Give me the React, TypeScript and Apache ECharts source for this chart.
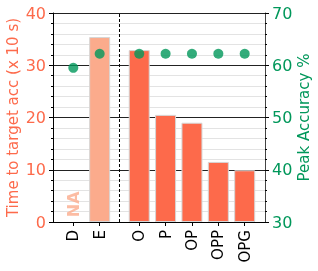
import React, { useEffect, useRef } from "react";
import * as echarts from "echarts";

const categories = ["D", "E", "O", "P", "OP", "OPP", "OPG"];
const positions = [0, 1, 2.5, 3.5, 4.5, 5.5, 6.5];
const timeValues: (number | null)[] = [null, 35.4, 32.9, 20.5, 19.0, 11.5, 9.9];
const accValues = [59.5, 62.2, 62.2, 62.2, 62.2, 62.2, 62.2];
const dividerAt = 1.75;

const LIGHT = "#fbab8c";
const DARK = "#fd6a4b";
const GREEN = "#00975a";
const FONT = "DejaVu Sans";

export default function App() {
  const ref = useRef<HTMLDivElement>(null);
  useEffect(() => {
    if (!ref.current) return;
    const chart = echarts.init(ref.current, null, { renderer: "svg" });
    const barData = positions
      .map((x, i) => ({ x, v: timeValues[i], i }))
      .filter((d) => d.v !== null)
      .map((d) => ({
        value: [d.x, d.v],
        itemStyle: { color: d.i === 1 ? LIGHT : DARK },
      }));
    chart.setOption({
      animation: false,
      grid: { left: 53, right: 53, top: 13, bottom: 49, outerBoundsMode: "none", containLabel: false },
      xAxis: {
        type: "value",
        min: -0.77,
        max: 7.27,
        splitLine: { show: false },
        axisLine: { onZero: false, lineStyle: { color: "#000", width: 1 } },
        axisTick: {
          show: true,
          customValues: positions,
          length: 4,
          lineStyle: { color: "#000" },
        },
        axisLabel: {
          customValues: positions,
          rotate: 90,
          color: "#000",
          fontSize: 15,
          fontFamily: FONT,
          margin: 8,
          formatter: (v: number) => {
            const idx = positions.findIndex((p) => Math.abs(p - v) < 1e-6);
            return idx >= 0 ? categories[idx] : "";
          },
        },
      },
      yAxis: [
        {
          type: "value",
          min: 0,
          max: 40,
          interval: 10,
          name: "Time to target acc (x 10 s)",
          nameLocation: "middle",
          nameRotate: 90,
          nameGap: 33,
          nameMoveOverlap: false,
          nameTextStyle: { color: DARK, fontSize: 15, fontFamily: FONT },
          axisLine: { show: true, onZero: false, lineStyle: { color: "#000" } },
          axisTick: { show: true, length: 4, lineStyle: { color: "#000" } },
          minorTick: { show: true, splitNumber: 5, length: 2, lineStyle: { color: "#000" } },
          axisLabel: { color: DARK, fontSize: 16, fontFamily: FONT, margin: 7 },
          splitLine: { show: true, lineStyle: { color: "#222", width: 1 } },
          minorSplitLine: { show: true, lineStyle: { color: "#e3e3e3", width: 1 } },
        },
        {
          type: "value",
          min: 30,
          max: 70,
          interval: 10,
          position: "right",
          name: "Peak Accuracy %",
          nameLocation: "middle",
          nameRotate: 90,
          nameGap: 31,
          nameMoveOverlap: false,
          nameTextStyle: { color: GREEN, fontSize: 15, fontFamily: FONT },
          axisLine: { show: true, onZero: false, lineStyle: { color: "#444" } },
          axisTick: { show: true, length: 4, lineStyle: { color: "#000" } },
          minorTick: { show: true, splitNumber: 5, length: 2, lineStyle: { color: "#000" } },
          axisLabel: { color: GREEN, fontSize: 16, fontFamily: FONT, margin: 7 },
          splitLine: { show: false },
        },
      ],
      series: [
        {
          type: "bar",
          data: barData,
          barWidth: 21,
          itemStyle: { borderColor: "#d6d6d6", borderWidth: 1 },
          markLine: {
            silent: true,
            symbol: "none",
            label: { show: false },
            lineStyle: { color: "#000", type: [3, 2], width: 1 },
            data: [{ xAxis: dividerAt }],
          },
        },
        {
          type: "scatter",
          yAxisIndex: 1,
          symbolSize: 10,
          itemStyle: { color: GREEN },
          data: positions.map((x, i) => [x, accValues[i]]),
          z: 5,
        },
        {
          type: "scatter",
          symbolSize: 1,
          itemStyle: { color: "rgba(0,0,0,0)" },
          data: [[positions[0], 3.4]],
          label: {
            show: true,
            formatter: "NA",
            rotate: 90,
            position: "inside",
            align: "center",
            verticalAlign: "middle",
            color: LIGHT,
            fontSize: 16,
            fontWeight: "bold",
            fontFamily: FONT,
          },
        },
      ],
    });
    return () => chart.dispose();
  }, []);
  return (
    <div
      ref={ref}
      style={{ position: "fixed", left: 0, top: 0, width: 318, height: 271 }}
    />
  );
}
